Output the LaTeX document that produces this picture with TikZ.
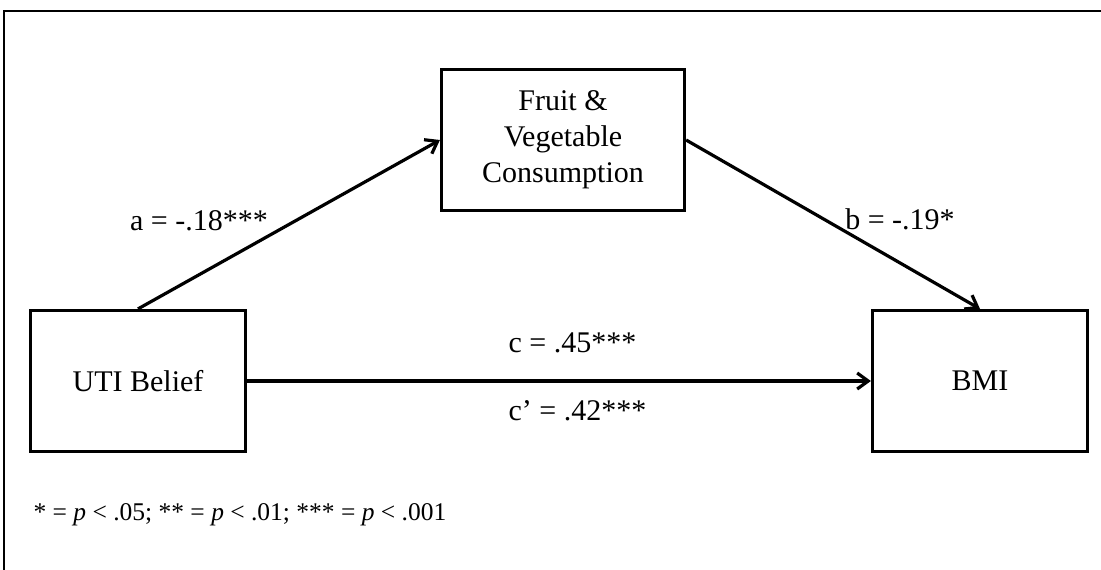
\documentclass[tikz,border=0pt]{standalone}
\usepackage{fontspec}
\setmainfont{Liberation Serif}
\usetikzlibrary{arrows.meta}

\begin{document}
\begin{tikzpicture}[x=1pt, y=-1pt,
	box/.style={draw, line width=3.2pt, minimum width=215pt, minimum height=141pt, align=center, font=\fontsize{30}{36}\selectfont},
	path/.style={line width=3.2pt, -{Straight Barb[length=11pt, width=16pt]}},
	coef/.style={anchor=base, font=\fontsize{30}{36}\selectfont}]
			\useasboundingbox (0,0) rectangle (1101,570);
			\draw[line width=1.2pt] (4,570) -- (4,11) -- (1101,11);
			\node[box] (uti) at (138,381) {UTI Belief};
			\node[box, minimum width=243pt] (fvc) at (563,140) {Fruit \&\\Vegetable\\Consumption};
			\node[box] (bmi) at (980,381) {BMI};
			\draw[path] (uti.north) -- (fvc.west);
			\draw[path] (fvc.east) -- (bmi.north);
			\draw[path] (uti.east) -- (bmi.west);
			\node[coef] (acoef) at (199,230) {a = -.18***};
			\node[coef] (bcoef) at (900,229) {b = -.19*};
			\node[coef, anchor=base west] (ccoef) at (505,352) {c = .45***};
			\node[coef, anchor=base west] (cpcoef) at (505,420) {c’ = .42***};
			\node[anchor=base west, font=\fontsize{25.5}{30}\selectfont] (note) at (30,520) {* = \textit{p} < .05; ** = \textit{p} < .01; *** = \textit{p} < .001};
			\end{tikzpicture}
\end{document}
